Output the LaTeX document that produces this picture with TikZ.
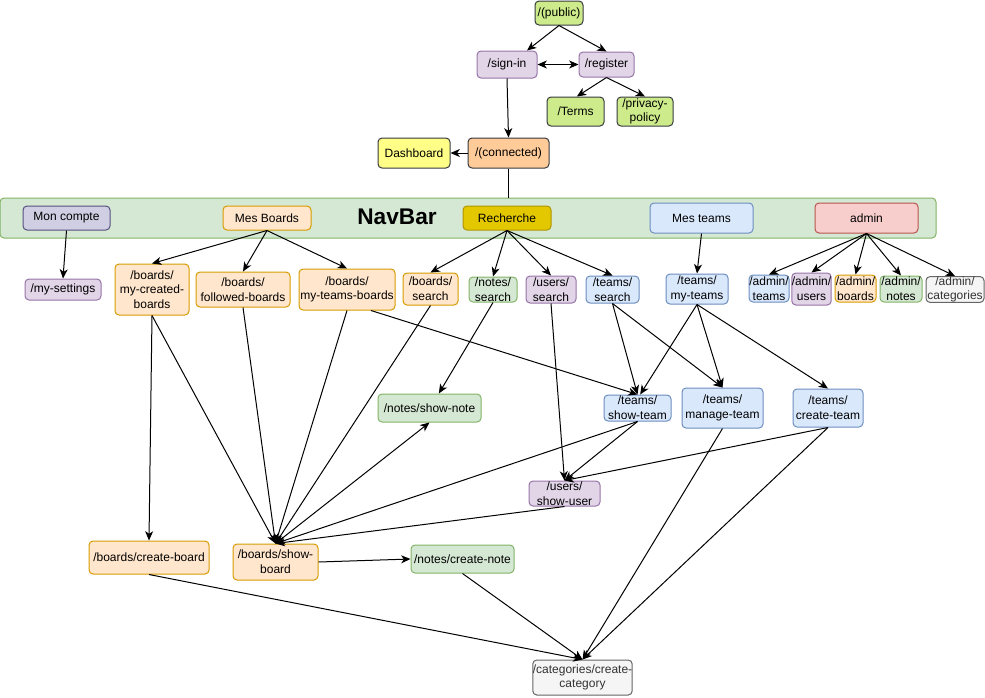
\documentclass[tikz,border=0pt]{standalone}
\usepackage{fontspec}
\setmainfont{Liberation Sans}
\usetikzlibrary{arrows.meta}
\definecolor{cDark}{HTML}{36393D}
\definecolor{cLime}{HTML}{CDEB8B}
\definecolor{cPurF}{HTML}{E1D5E7}
\definecolor{cPurD}{HTML}{9673A6}
\definecolor{cYel}{HTML}{FFFF88}
\definecolor{cOrC}{HTML}{FFCC99}
\definecolor{cGrnF}{HTML}{D5E8D4}
\definecolor{cGrnD}{HTML}{82B366}
\definecolor{cMonF}{HTML}{D0CEE2}
\definecolor{cMonD}{HTML}{56517E}
\definecolor{cOrF}{HTML}{FFE6CC}
\definecolor{cOrD}{HTML}{D79B00}
\definecolor{cRecF}{HTML}{E3C800}
\definecolor{cRecD}{HTML}{B09500}
\definecolor{cBluF}{HTML}{DAE8FC}
\definecolor{cBluD}{HTML}{6C8EBF}
\definecolor{cRedF}{HTML}{F8CECC}
\definecolor{cRedD}{HTML}{B85450}
\definecolor{cGreyF}{HTML}{F5F5F5}
\definecolor{cGreyD}{HTML}{666666}
\definecolor{cGreyT}{HTML}{333333}
\tikzset{
  bx/.style={draw, rounded corners=3pt, line width=0.75pt, inner sep=0pt, align=center,
    font=\fontsize{9}{11}\selectfont},
  sz/.style 2 args={minimum width=#1*0.75pt, minimum height=#2*0.75pt},
  lime/.style={bx, fill=cLime, draw=cDark},
  purp/.style={bx, fill=cPurF, draw=cPurD},
  yel/.style={bx, fill=cYel, draw=cDark},
  orc/.style={bx, fill=cOrC, draw=cDark},
  grn/.style={bx, fill=cGrnF, draw=cGrnD},
  mon/.style={bx, fill=cMonF, draw=cMonD},
  ora/.style={bx, fill=cOrF, draw=cOrD},
  rec/.style={bx, fill=cRecF, draw=cRecD},
  blu/.style={bx, fill=cBluF, draw=cBluD},
  red/.style={bx, fill=cRedF, draw=cRedD},
  gry/.style={bx, fill=cGreyF, draw=cGreyD, text=cGreyT},
  arr/.style={-{Stealth[length=7pt,width=6pt,inset=2pt]}, line width=0.75pt},
  barr/.style={{Stealth[length=7pt,width=6pt,inset=2pt]}-{Stealth[length=7pt,width=6pt,inset=2pt]}, line width=0.75pt},
  plain/.style={line width=0.75pt}
}
\begin{document}
\begin{tikzpicture}[x=0.75pt,y=-0.75pt]
\useasboundingbox (0,0) rectangle (985,697);
% top
\node[lime, sz={48}{24}] (pub) at (559,13) {/(public)};
\node[purp, sz={60}{27}] (si) at (507,64.5) {/sign-in};
\node[purp, sz={55}{25}] (reg) at (606.5,64.5) {/register};
\node[lime, sz={57}{29}] (terms) at (575.5,111.5) {/Terms};
\node[lime, sz={56}{29}] (priv) at (645,111.5) {/privacy-\\policy};
\node[yel, sz={72}{30}] (dash) at (414,153) {Dashboard};
\node[orc, sz={81}{30}] (conn) at (508.5,153) {/(connected)};
% navbar
\node[grn, sz={936}{40}] (nav) at (468,218) {};
\node[font=\fontsize{17}{20}\selectfont\bfseries] (navlbl) at (397,217) {NavBar};
\node[mon, sz={87}{24}] (mc) at (66.5,218) {Mon compte};
\node[ora, sz={88}{24}] (mb) at (267,218) {Mes Boards};
\node[rec, sz={88}{24}] (rech) at (507,218) {Recherche};
\node[blu, sz={103}{30}] (mt) at (701.5,218) {Mes teams};
\node[red, sz={103}{30}] (adm) at (866.5,218) {admin};
% row 2
\node[purp, sz={76}{21}] (myset) at (63,289.5) {/my-settings};
\node[ora, sz={74}{51}] (mcb) at (152,289.5) {/boards/\\my-created-\\boards};
\node[ora, sz={94}{35}] (fb) at (243,289.5) {/boards/\\followed-boards};
\node[ora, sz={96}{41}] (mtb) at (347,289.5) {/boards/\\my-teams-boards};
\node[ora, sz={55}{32}] (bs) at (430.5,289) {/boards/\\search};
\node[grn, sz={48}{25}] (ns) at (493,289.5) {/notes/\\search};
\node[purp, sz={50}{27}] (us) at (551,289.5) {/users/\\search};
\node[blu, sz={53}{27}] (ts) at (612.5,289.5) {/teams/\\search};
\node[blu, sz={62}{30}] (tmt) at (697,289) {/teams/\\my-teams};
\node[blu, sz={40}{27}] (at) at (769,288.5) {/admin/\\teams};
\node[purp, sz={39}{32}] (au) at (811.5,289) {/admin/\\users};
\node[ora, sz={41}{27}] (ab) at (855.5,288.5) {/admin/\\boards};
\node[grn, sz={42}{26}] (an) at (901,289) {/admin/\\notes};
\node[gry, sz={58}{25}] (ac) at (955,289.5) {/admin/\\categories};
% row 3
\node[grn, sz={103}{28}] (sn) at (429.5,408) {/notes/show-note};
\node[blu, sz={67}{26}] (st) at (637.5,408) {/teams/\\show-team};
\node[blu, sz={81}{40}] (mgt) at (722.5,408) {/teams/\\manage-team};
\node[blu, sz={70}{38}] (ct) at (828,408) {/teams/\\create-team};
\node[purp, sz={71}{25}] (su) at (564.5,493.5) {/users/\\show-user};
% row 4
\node[ora, sz={120}{33}] (cb) at (149,557.5) {/boards/create-board};
\node[ora, sz={85}{36}] (sb) at (275.5,562) {/boards/show-\\board};
\node[grn, sz={103}{28}] (cn) at (462.5,559) {/notes/create-note};
\node[gry, sz={97}{35}] (cc) at (582.5,677.5) {/categories/create-\\category};
% edges top
\draw[arr] (pub.south) -- ([xshift=15pt]si.north);
\draw[arr] (pub.south) -- (reg.north);
\draw[barr] (si.east) -- (reg.west);
\draw[arr] (reg.south) -- ([xshift=1pt]terms.north);
\draw[arr] (reg.south) -- (priv.north);
\draw[arr] (si.south) -- (conn.north);
\draw[arr] (conn.west) -- (dash.east);
\draw[plain] (conn.south) -- (conn.south |- nav.north);
% navbar children
\draw[arr] (mc.south) -- (myset.north);
\draw[arr] (mb.south) -- (mcb.north);
\draw[arr] (mb.south) -- (fb.north);
\draw[arr] (mb.south) -- (mtb.north);
\draw[arr] (rech.south) -- (bs.north);
\draw[arr] (rech.south) -- (ns.north);
\draw[arr] (rech.south) -- (us.north);
\draw[arr] (rech.south) -- (ts.north);
\draw[arr] (mt.south) -- (tmt.north);
\draw[arr] (adm.south) -- (at.north);
\draw[arr] (adm.south) -- (au.north);
\draw[arr] (adm.south) -- (ab.north);
\draw[arr] (adm.south) -- (an.north);
\draw[arr] (adm.south) -- (ac.north);
% middle
\draw[arr] (mcb.south) -- (cb.north);
\draw[arr] (mcb.south) -- (sb.north);
\draw[arr] (fb.south) -- (sb.north);
\draw[arr] (mtb.south) -- (sb.north);
\draw[arr] ([xshift=18pt]mtb.south) -- (st.north);
\draw[arr] (bs.south) -- (sb.north);
\draw[arr] (ns.south) -- ([xshift=7pt]sn.north);
\draw[barr] (sb.north) -- (sn.south);
\draw[arr] (us.south) -- (su.north);
\draw[arr] (ts.south) -- (st.north);
\draw[arr] (ts.south) -- (mgt.north);
\draw[arr] (tmt.south) -- ([xshift=2pt]st.north);
\draw[arr] (tmt.south) -- (mgt.north);
\draw[arr] (tmt.south) -- (ct.north);
\draw[arr] (st.south) -- (su.north);
\draw[arr] (st.south) -- (sb.north);
\draw[arr] (ct.south) -- (su.north);
\draw[arr] (su.south) -- (sb.north);
% bottom
\draw[arr] (sb.east) -- (cn.west);
\draw[arr] (cb.south) -- (cc.north);
\draw[arr] (cn.south) -- (cc.north);
\draw[arr] (mgt.south) -- (cc.north);
\draw[arr] (ct.south) -- (cc.north);
\end{tikzpicture}
\end{document}
